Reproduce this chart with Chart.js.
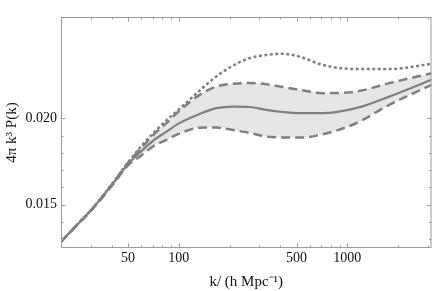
<!DOCTYPE html>
<html>
<head>
<meta charset="utf-8">
<script src="https://cdn.jsdelivr.net/npm/chart.js@4/dist/chart.umd.min.js"></script>
<style>
  html, body { margin: 0; padding: 0; background: #fff; }
  #wrap { width: 436px; height: 291px; }
</style>
</head>
<body>
<div id="wrap"><canvas id="chart"></canvas></div>
<script>
const kValues = [20, 25, 30, 40, 50, 60, 70, 85, 100, 133, 167, 209, 263, 330, 412, 520, 714, 1126, 1774, 3160];

const solidSeries = [0.01286, 0.01385, 0.01465, 0.01613, 0.01736, 0.01810, 0.01868, 0.01924, 0.01970, 0.02025,
  0.02058, 0.02067, 0.02065, 0.02048, 0.02036, 0.02029, 0.02029, 0.02058, 0.02125, 0.02222];
const upperSeries = [0.01286, 0.01385, 0.01466, 0.01616, 0.01742, 0.01828, 0.01900, 0.01975, 0.02040, 0.02135,
  0.02183, 0.02199, 0.02203, 0.02197, 0.02181, 0.02164, 0.02145, 0.02154, 0.02203, 0.02260];
const lowerSeries = [0.01286, 0.01384, 0.01463, 0.01608, 0.01728, 0.01785, 0.01836, 0.01876, 0.01910, 0.01945,
  0.01946, 0.01932, 0.01915, 0.01894, 0.01889, 0.01888, 0.01907, 0.01971, 0.02077, 0.02193];
const dottedSeries = [0.01287, 0.01386, 0.01467, 0.01618, 0.01745, 0.01840, 0.01910, 0.01990, 0.02050, 0.02160,
  0.02241, 0.02303, 0.02347, 0.02366, 0.02372, 0.02356, 0.02308, 0.02284, 0.02284, 0.02314];

const xMajorTicks = [50, 100, 500, 1000];
const xMinorTicks = [30, 40, 60, 70, 80, 90, 200, 300, 400, 600, 700, 800, 900, 2000, 3000];
const yMajorTicks = [0.015, 0.020];
const yMinorTicks = [0.013, 0.014, 0.016, 0.017, 0.018, 0.019];

const lineColor = '#808080';
const frameColor = '#9a9a9a';

const toPoints = (vals) => vals.map((v, i) => ({ x: kValues[i], y: v }));

// Mathematica-style frame with inward ticks on all four sides
const frameTicks = {
  id: 'frameTicks',
  afterDatasetsDraw(chart) {
    const { ctx, chartArea: a, scales: { x, y } } = chart;
    ctx.save();
    ctx.strokeStyle = frameColor;
    ctx.lineWidth = 1;
    ctx.strokeRect(a.left + 0.5, a.top + 0.5, a.right - a.left - 1, a.bottom - a.top - 1);
    ctx.beginPath();
    const xTick = (v, len) => {
      const px = Math.round(x.getPixelForValue(v)) + 0.5;
      ctx.moveTo(px, a.bottom); ctx.lineTo(px, a.bottom - len);
      ctx.moveTo(px, a.top); ctx.lineTo(px, a.top + len);
    };
    const yTick = (v, len) => {
      const py = Math.round(y.getPixelForValue(v)) + 0.5;
      ctx.moveTo(a.left, py); ctx.lineTo(a.left + len, py);
      ctx.moveTo(a.right, py); ctx.lineTo(a.right - len, py);
    };
    xMajorTicks.forEach(v => xTick(v, 4.5));
    xMinorTicks.forEach(v => xTick(v, 2.5));
    yMajorTicks.forEach(v => yTick(v, 4.5));
    yMinorTicks.forEach(v => yTick(v, 2.5));
    ctx.stroke();
    ctx.restore();
  },
};

const serif = 'Liberation Serif';

new Chart(document.getElementById('chart'), {
  type: 'line',
  data: {
    datasets: [
      {
        data: toPoints(solidSeries),
        borderColor: lineColor,
        borderWidth: 2.2,
        fill: false,
      },
      {
        data: toPoints(dottedSeries),
        borderColor: lineColor,
        borderWidth: 2.5,
        borderDash: [3, 2.5],
        fill: false,
      },
      {
        data: toPoints(lowerSeries),
        borderColor: lineColor,
        borderWidth: 2.5,
        borderDash: [9, 5],
        fill: false,
      },
      {
        data: toPoints(upperSeries),
        borderColor: lineColor,
        borderWidth: 2.5,
        borderDash: [9, 5],
        fill: '-1',
        backgroundColor: '#e6e6e6',
      },
    ],
  },
  options: {
    responsive: true,
    maintainAspectRatio: false,
    animation: false,
    layout: { padding: { top: 17, right: 4.5 } },
    elements: {
      point: { radius: 0 },
      line: { cubicInterpolationMode: 'monotone' },
    },
    plugins: {
      legend: { display: false },
      tooltip: { enabled: false },
    },
    scales: {
      x: {
        type: 'logarithmic',
        min: 20,
        max: 3160,
        grid: { display: false, drawTicks: false },
        border: { display: false },
        afterBuildTicks: (s) => { s.ticks = xMajorTicks.map(v => ({ value: v })); },
        afterFit: (s) => { s.height = 43; },
        ticks: {
          autoSkip: false,
          maxRotation: 0,
          padding: 2,
          color: '#111',
          font: { family: serif, size: 14 },
          callback: (v) => String(v),
        },
        title: {
          display: true,
          text: 'k/ (h Mpc\u207B\u00B9)',
          color: '#111',
          padding: { top: 0, bottom: 0 },
          font: { family: serif, size: 15 },
        },
      },
      y: {
        min: 0.0125,
        max: 0.02585,
        grid: { display: false, drawTicks: false },
        border: { display: false },
        afterBuildTicks: (s) => { s.ticks = yMajorTicks.map(v => ({ value: v })); },
        afterFit: (s) => { s.width = 61; },
        ticks: {
          padding: 4,
          color: '#111',
          font: { family: serif, size: 14 },
          callback: (v) => v.toFixed(3),
        },
        title: {
          display: true,
          text: '4\u03C0 k\u00B3 P(k)',
          color: '#111',
          padding: { top: 3, bottom: 0 },
          font: { family: serif, size: 15 },
        },
      },
    },
  },
  plugins: [frameTicks],
});
</script>
</body>
</html>
